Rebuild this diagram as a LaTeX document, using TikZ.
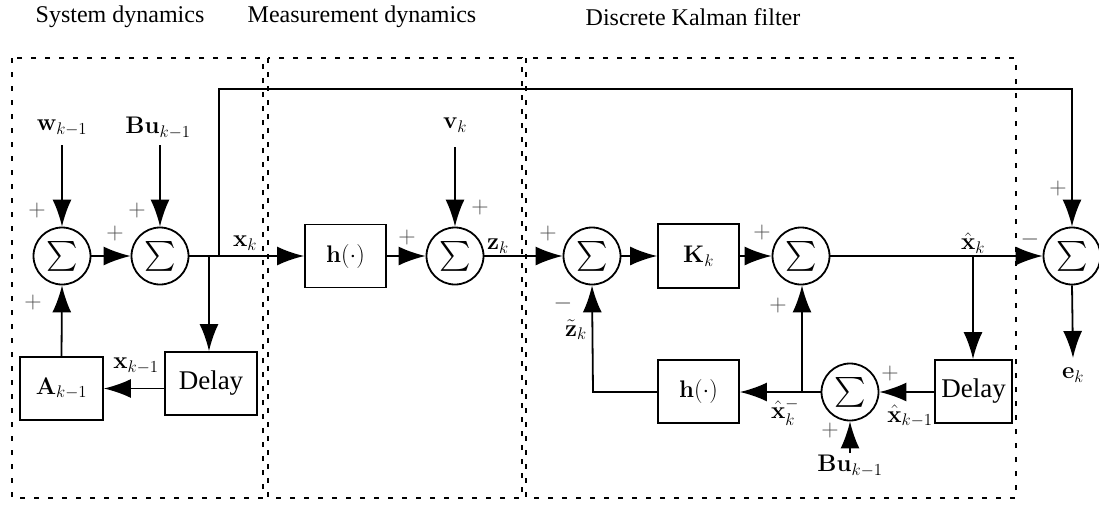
\RequirePackage{fix-cm}
\documentclass[tikz,border=0pt]{standalone}
\usepackage{amsmath}
\usepackage{graphicx}
\usepackage[no-math]{fontspec}
\setmainfont{Liberation Serif}
\usetikzlibrary{arrows.meta,calc}
\newcommand{\bigsum}{\scalebox{1.2}{$\sum$}}
\tikzset{
  ln/.style={line width=1.8pt},
  arr/.style={ln,-{Latex[length=27pt,width=19pt]}},
  sumc/.style={circle,draw,line width=1.8pt,minimum size=57pt,inner sep=0pt,font=\fontsize{24}{28}\selectfont},
  blk/.style={rectangle,draw,line width=1.8pt,inner sep=0pt,font=\fontsize{24}{28}\selectfont},
  dly/.style={blk,font=\fontsize{27}{30}\selectfont},
  lbl/.style={inner sep=0pt,font=\fontsize{24}{28}\selectfont},
  sgn/.style={inner sep=0pt,text=black!70,font=\fontsize{24}{28}\selectfont},
  ttl/.style={inner sep=0pt,font=\fontsize{24}{28}\selectfont},
  dotbox/.style={line width=2.2pt,dash pattern=on 5pt off 9pt},
}
\begin{document}
\begin{tikzpicture}[x=1pt,y=-1pt]
\useasboundingbox (0,0) rectangle (1099,504);
% titles
\node[ttl] (t1) at (120,17) {System dynamics};
\node[ttl] (t2) at (362,17) {Measurement dynamics};
\node[ttl] (t3) at (693,17) {Discrete Kalman filter};
% dotted regions
\draw[dotbox] (12,58) rectangle (263,498);
\draw[dotbox] (268,58) rectangle (522,498);
\draw[dotbox] (526,58) rectangle (1016,498);
% nodes
\node[sumc] (s1) at (62,256) {\bigsum};
\node[sumc] (s2) at (160,256) {\bigsum};
\node[sumc] (s3) at (455,256) {\bigsum};
\node[sumc] (s4) at (592,256) {\bigsum};
\node[sumc] (s5) at (801,256) {\bigsum};
\node[sumc] (s6) at (1072,256) {\bigsum};
\node[sumc] (s7) at (850,392) {\bigsum};
\node[dly,minimum width=92pt,minimum height=63pt] (d1) at (211,383.5) {Delay};
\node[blk,minimum width=83pt,minimum height=63pt] (A) at (61.5,388.5) {$\mathbf{A}_{k-1}$};
\node[blk,minimum width=81pt,minimum height=63pt] (h1) at (345.5,256) {$\mathbf{h}(\cdot)$};
\node[blk,minimum width=81pt,minimum height=64pt] (K) at (698.5,256) {$\mathbf{K}_k$};
\node[blk,minimum width=81pt,minimum height=63pt] (h2) at (698.5,391.5) {$\mathbf{h}(\cdot)$};
\node[dly,minimum width=77pt,minimum height=63pt] (d2) at (973.5,391.5) {Delay};
% input labels
\node[lbl] (w) at (62,128) {$\mathbf{w}_{k-1}$};
\node[lbl] (bu1) at (158,128) {$\mathbf{Bu}_{k-1}$};
\node[lbl] (v) at (455,125) {$\mathbf{v}_k$};
\node[lbl] (bu2) at (850,466) {$\mathbf{Bu}_{k-1}$};
\node[lbl] (e) at (1073,375) {$\mathbf{e}_k$};
% signal labels
\node[lbl] (xk) at (245,243) {$\mathbf{x}_k$};
\node[lbl] (xk1) at (136,366) {$\mathbf{x}_{k-1}$};
\node[lbl] (zk) at (498,246) {$\mathbf{z}_k$};
\node[lbl] (zt) at (576,330) {$\tilde{\mathbf{z}}_k$};
\node[lbl] (xh) at (973,243) {$\hat{\mathbf{x}}_k$};
\node[lbl] (xhm) at (785,412) {$\hat{\mathbf{x}}_k^-$};
\node[lbl] (xh1) at (910,416) {$\hat{\mathbf{x}}_{k-1}$};
% coordinates
\coordinate (cw) at (62,145);
\coordinate (cbu1) at (160,145);
\coordinate (cv) at (455,147);
\coordinate (cbu2) at (850,453);
\coordinate (ce) at (1073,358);
\coordinate (j1) at (209,256);
\coordinate (j2) at (219,256);
\coordinate (top) at (219,89);
\coordinate (j3) at (973,256);
\coordinate (j4) at (802,392);
\coordinate (c4) at (593,392);
% connectors
\draw[arr] (cw) -- (s1.north);
\draw[arr] (cbu1) -- (s2.north);
\draw[arr] (s1.east) -- (s2.west);
\draw[arr] (s2.east) -- (h1.west);
\draw[arr] (j1) -- (j1 |- d1.north);
\draw[arr] (j2) -- (top) -| (s6.north);
\draw[arr] (d1.west |- A.east) -- (A.east);
\draw[arr] (A.north) -- (s1.south);
\draw[arr] (h1.east) -- (s3.west);
\draw[arr] (cv) -- (s3.north);
\draw[arr] (s3.east) -- (s4.west);
\draw[arr] (s4.east) -- (K.west);
\draw[arr] (K.east) -- (s5.west);
\draw[arr] (s5.east) -- (s6.west);
\draw[arr] (j3) -- (j3 |- d2.north);
\draw[arr] (d2.west |- s7.east) -- (s7.east);
\draw[arr] (s7.west) -- (h2.east |- s7.west);
\draw[arr] (j4) -- (j4 |- s5.south);
\draw[arr] (h2.west |- c4) -- (c4) -- (s4.south);
\draw[arr] (cbu2) -- (s7.south);
\draw[arr] (s6.south) -- (ce);
% signs
\node[sgn] (p1) at (37,210) {$+$};
\node[sgn] (p2) at (137,210) {$+$};
\node[sgn] (p3) at (115,233) {$+$};
\node[sgn] (p4) at (33,302) {$+$};
\node[sgn] (p5) at (407,237) {$+$};
\node[sgn] (p6) at (480,207) {$+$};
\node[sgn] (p7) at (548,233) {$+$};
\node[sgn] (m1) at (563,303) {$-$};
\node[sgn] (p8) at (762,232) {$+$};
\node[sgn] (p9) at (778,305) {$+$};
\node[sgn] (p10) at (830,430) {$+$};
\node[sgn] (p11) at (890,373) {$+$};
\node[sgn] (m2) at (1030,239) {$-$};
\node[sgn] (p12) at (1058,188) {$+$};
\end{tikzpicture}
\end{document}
